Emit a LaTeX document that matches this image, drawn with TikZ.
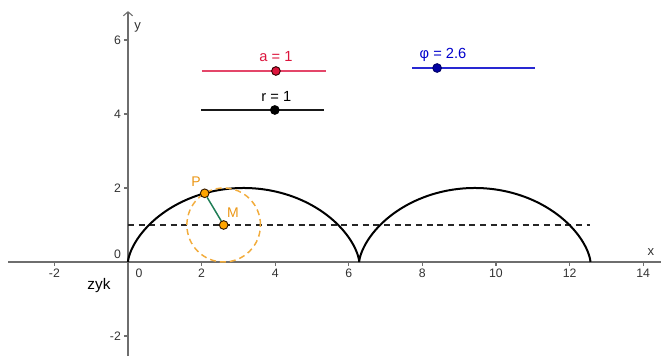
\documentclass[tikz,border=0pt]{standalone}
\usepackage{fontspec}
\setmainfont{Liberation Sans}
\usetikzlibrary{arrows.meta}
\definecolor{axisgray}{RGB}{110,110,110}
\definecolor{ticklab}{RGB}{50,50,50}
\definecolor{sliderred}{RGB}{220,20,60}
\definecolor{sliderredline}{RGB}{228,70,105}
\definecolor{sliderblue}{RGB}{0,0,204}
\definecolor{sliderblueline}{RGB}{40,40,210}
\definecolor{ptorange}{RGB}{255,165,0}
\definecolor{laborange}{RGB}{235,150,20}
\definecolor{circorange}{RGB}{242,172,60}
\definecolor{segteal}{RGB}{30,125,85}
\tikzset{
  axisline/.style={draw=axisgray, line width=1.1pt},
  tickline/.style={draw=axisgray, line width=0.8pt},
  ticklabel/.style={text=ticklab, font=\fontsize{9.2}{11}\selectfont, inner sep=1pt},
  curveline/.style={draw=black, line width=1.5pt},
  dashline/.style={draw=black!85, line width=0.9pt, dash pattern=on 4.5pt off 3.5pt},
  circline/.style={draw=circorange, line width=1.1pt, dash pattern=on 4.5pt off 3pt},
  segline/.style={draw=segteal, line width=1.1pt},
  dot/.style={circle, inner sep=0pt, minimum size=6.5pt, line width=0.7pt},
  sliderline/.style={line width=1.1pt},
  sliderlabel/.style={font=\fontsize{11}{13}\selectfont, inner sep=0pt},
  ptlabel/.style={text=laborange, font=\fontsize{10.5}{12}\selectfont, inner sep=0pt}
}
\begin{document}
\begin{tikzpicture}[x=27.6pt,y=27.75pt]
\useasboundingbox (-3.478,-2.541) rectangle (14.484,7.081);
% axes
\draw[axisline] (-3.26,0) -- (14.484,0);
\draw[axisline,-{Straight Barb[length=3pt,width=7pt,line width=0.8pt]}] (0,-2.541) -- (0,6.78);
\foreach \xv in {-2,2,4,6,8,10,12,14} {
  \draw[tickline] (\xv,0) -- (\xv,-0.11);
  \node[ticklabel, anchor=north] (xt\xv) at (\xv,-0.15) {\xv};
}
\node[ticklabel, anchor=north] (xt0) at (0.3,-0.15) {0};
\foreach \yv in {-2,2,4,6} {
  \draw[tickline] (0,\yv) -- (-0.11,\yv);
  \node[ticklabel, anchor=east] (yt\yv) at (-0.15,\yv) {\yv};
}
\node[ticklabel, anchor=east] (yt0) at (-0.15,0.2) {0};
\node[ticklabel, font=\fontsize{9.8}{11}\selectfont] (xlab) at (14.21,0.26) {x};
\node[ticklabel, font=\fontsize{9.8}{11}\selectfont] (ylab) at (0.26,6.34) {y};
% centre line
\draw[dashline] (0,1) -- ({4*pi},1);
% cycloid
\draw[curveline, line join=miter] plot[domain=0:{4*pi}, samples=400, variable=\t] ({\t - sin(\t r)}, {1 - cos(\t r)});
\node[font=\fontsize{11.5}{13}\selectfont, inner sep=0pt] (zyk) at (-0.79,-0.64) {zyk};
% rolling circle
\draw[circline] (2.6,1) circle (1);
\node[dot, draw=black!80!orange, fill=ptorange] (M) at (2.6,1) {};
\node[dot, draw=black!80!orange, fill=ptorange] (P) at ({2.6 - sin(2.6 r)},{1 - cos(2.6 r)}) {};
\draw[segline] (M) -- (P);
\node[ptlabel] (Mlab) at (2.85,1.33) {M};
\node[ptlabel] (Plab) at (1.85,2.18) {P};
% slider a
\draw[sliderline, draw=sliderredline] (2.01,5.162) -- (5.38,5.162);
\node[dot, draw=black!80!red, fill=sliderred] (aS) at (4.02,5.162) {};
\node[sliderlabel, text=sliderred] (aL) at (4.02,5.54) {a = 1};
% slider r
\draw[sliderline, draw=black!90] (1.99,4.108) -- (5.32,4.108);
\node[dot, draw=black, fill=black] (rS) at (3.99,4.108) {};
\node[sliderlabel, text=black] (rL) at (4.03,4.47) {r = 1};
% slider phi
\draw[sliderline, draw=sliderblueline] (7.72,5.243) -- (11.06,5.243);
\node[dot, draw=black!60!blue, fill=sliderblue!80!black] (pS) at (8.40,5.243) {};
\node[sliderlabel, text=sliderblue] (pL) at (8.56,5.6) {φ = 2.6};
\end{tikzpicture}
\end{document}
